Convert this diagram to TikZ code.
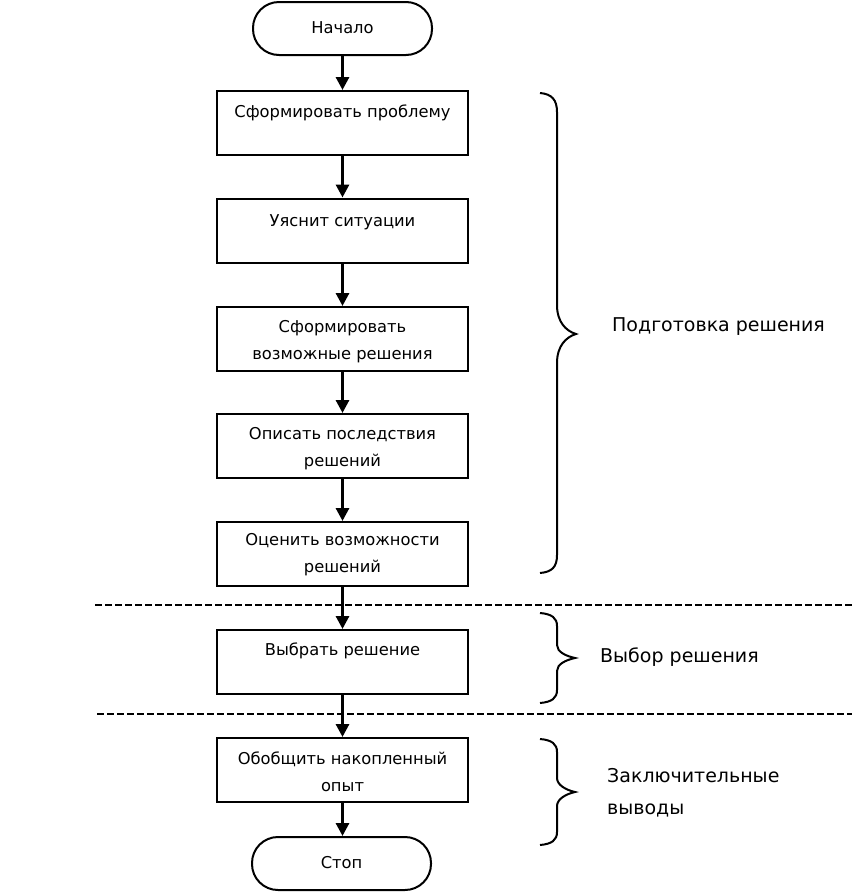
\documentclass[tikz,border=0pt]{standalone}
\usepackage{fontspec}
\setmainfont{DejaVu Sans}
\usetikzlibrary{arrows.meta}
\begin{document}
\begin{tikzpicture}[x=1pt,y=-1pt,
  box/.style={draw,line width=2pt,minimum width=251pt,minimum height=64pt,inner sep=0pt},
  term/.style={draw,line width=2pt,minimum width=179pt,minimum height=53pt,inner sep=0pt,rounded corners=26pt},
  txt/.style={font=\fontsize{16.3}{27}\selectfont,align=center,inner sep=0pt},
  lbl/.style={font=\fontsize{19}{32}\selectfont,align=left,inner sep=0pt,anchor=west},
  flow/.style={line width=3pt,-{Triangle[length=13pt,width=13pt]}},
  brc/.style={line width=2pt},
  sep/.style={dash pattern=on 7pt off 3pt}
]
\useasboundingbox (0,0) rectangle (852,892);
% terminals and boxes
\node[term] (start) at (342.5,28.5) {};
\node[txt] (tstart) at (342.5,28) {Начало};
\node[box] (b1) at (342.5,123) {};
\node[txt] (t1) at (342.5,113) {Сформировать проблему};
\node[box] (b2) at (342.5,230.5) {};
\node[txt] (t2) at (342.5,222) {Уяснит ситуации};
\node[box] (b3) at (342.5,339) {};
\node[txt] (t3) at (342.5,341.5) {Сформировать\\возможные решения};
\node[box] (b4) at (342.5,446) {};
\node[txt] (t4) at (342.5,449) {Описать последствия\\решений};
\node[box] (b5) at (342.5,554) {};
\node[txt] (t5) at (342.5,555) {Оценить возможности\\решений};
\node[box] (b6) at (342.5,662) {};
\node[txt] (t6) at (342.5,651) {Выбрать решение};
\node[box] (b7) at (342.5,770) {};
\node[txt] (t7) at (342.5,771.5) {Обобщить накопленный\\опыт};
\node[term] (stop) at (341.5,863.5) {};
\node[txt] (tstop) at (341.5,863) {Стоп};
% connectors
\draw[flow] (start) -- (b1);
\draw[flow] (b1) -- (b2);
\draw[flow] (b2) -- (b3);
\draw[flow] (b3) -- (b4);
\draw[flow] (b4) -- (b5);
\draw[flow] (b5) -- (b6);
\draw[flow] (b6) -- (b7);
\draw[flow] (b7.south) -- (b7.south |- stop.north);
% separators
\draw[sep,line width=1.6pt] (95,605) -- (852,605);
\draw[sep,line width=2.6pt] (97,714) -- (852,714);
% braces
\draw[brc] (540,93) .. controls (552,94) and (557,100) .. (557,112)
  -- (557,305) .. controls (557,322) and (566,331) .. (576,334)
  .. controls (566,337) and (557,346) .. (557,363)
  -- (557,555) .. controls (557,567) and (552,572) .. (540,573);
\draw[brc] (540,613) .. controls (552,614) and (557,618) .. (557,626)
  -- (557,645) .. controls (557,652) and (566,656) .. (575,658)
  .. controls (566,660) and (557,664) .. (557,671)
  -- (557,690) .. controls (557,698) and (552,702) .. (540,703);
\draw[brc] (540,739) .. controls (552,740) and (557,744) .. (557,752)
  -- (557,778) .. controls (557,785) and (566,790) .. (575,792)
  .. controls (566,794) and (557,799) .. (557,806)
  -- (557,832) .. controls (557,840) and (552,844) .. (540,845);
% labels
\node[lbl] (l1) at (612,327) {Подготовка решения};
\node[lbl] (l2) at (600,657) {Выбор решения};
\node[lbl] (l3) at (607,793) {Заключительные\\выводы};
\end{tikzpicture}
\end{document}
